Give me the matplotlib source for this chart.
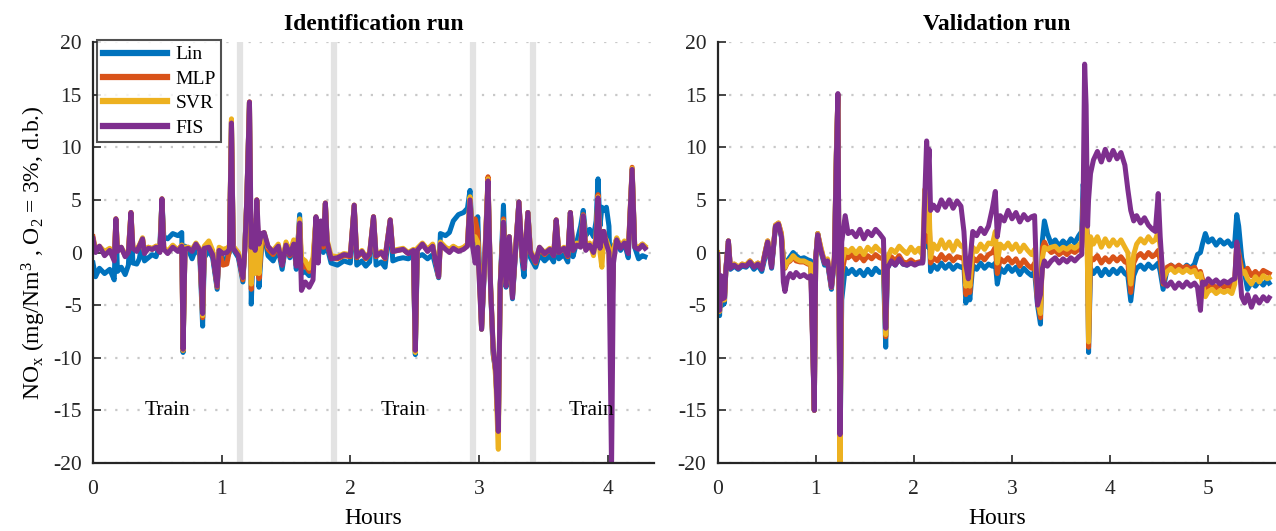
import numpy as np
import matplotlib.pyplot as plt

plt.rcParams['font.family'] = ['Liberation Serif', 'DejaVu Serif']
plt.rcParams['mathtext.default'] = 'regular'
plt.rcParams['axes.unicode_minus'] = False

# identification run (hours, error for each model)
t_id = [0.00, 0.02, 0.05, 0.09, 0.13, 0.165, 0.178, 0.19, 0.22, 0.25, 0.275, 0.295, 0.31, 0.34, 0.36,
        0.385, 0.40, 0.43, 0.46, 0.49, 0.52, 0.536, 0.55, 0.58, 0.62, 0.66, 0.69, 0.70, 0.715, 0.74,
        0.77, 0.80, 0.83, 0.852, 0.865, 0.90, 0.93, 0.965, 0.98, 1.01, 1.04, 1.06, 1.076, 1.09, 1.13,
        1.165, 1.18, 1.195, 1.216, 1.23, 1.245, 1.26, 1.273, 1.29, 1.31, 1.33, 1.36, 1.40, 1.44, 1.47,
        1.50, 1.53, 1.56, 1.58, 1.606, 1.62, 1.65, 1.68, 1.71, 1.733, 1.75, 1.77, 1.79, 1.806, 1.82,
        1.85, 1.90, 1.95, 2.00, 2.03, 2.05, 2.09, 2.12, 2.15, 2.18, 2.20, 2.24, 2.27, 2.31, 2.33,
        2.37, 2.41, 2.45, 2.49, 2.505, 2.52, 2.56, 2.60, 2.64, 2.686, 2.70, 2.74, 2.77, 2.80, 2.84,
        2.88, 2.91, 2.93, 2.95, 2.97, 2.99, 3.02, 3.05, 3.07, 3.09, 3.11, 3.13, 3.15, 3.165, 3.19,
        3.21, 3.235, 3.26, 3.285, 3.31, 3.335, 3.35, 3.38, 3.40, 3.44, 3.47, 3.51, 3.55, 3.58, 3.60,
        3.62, 3.66, 3.69, 3.71, 3.73, 3.76, 3.79, 3.81, 3.83, 3.86, 3.89, 3.91, 3.925, 3.94, 3.955,
        3.97, 3.99, 4.01, 4.03, 4.045, 4.07, 4.10, 4.13, 4.16, 4.19, 4.21, 4.24, 4.27, 4.29]
lin_id = [-1.0, -2.3, -1.5, -2.0, -1.6, -2.6, 3.0, -1.8, -1.4, -2.1, -1.2, 3.6, -1.0, -1.1, -0.6,
          1.2, -0.8, -0.5, -0.2, -0.4, 0.8, 5.0, 1.5, 1.3, 1.8, 1.6, 1.9, -9.5, 0.6, 0.3,
          -0.6, 0.4, -0.3, -7.0, -0.5, 0.2, -0.5, -3.5, 0.0, -0.7, -0.5, 0.0, 12.4, 0.3, -0.5,
          -2.8, 0.5, 4.8, 14.2, -4.9, 0.5, -1.5, 4.8, -3.3, 0.5, 1.7, -0.3, -0.8, 0.3, -1.6,
          0.8, -0.5, 0.9, -1.6, 3.6, -2.0, -1.8, -2.2, -1.5, 3.3, 0.5, 2.0, 0.0, 4.6, 0.5,
          -1.0, -1.2, -0.8, -1.0, 4.4, -1.2, -0.8, -1.3, -0.9, 3.3, -1.2, -0.9, -1.4, 3.0, -0.8,
          -0.6, -0.5, -0.6, -0.3, -9.7, -0.4, -0.2, -0.6, -0.2, -2.4, 1.8, 1.6, 1.9, 3.0, 3.6,
          3.8, 4.2, 5.9, 0.8, -0.5, 3.4, -7.3, 0.5, 6.8, -3.3, -9.7, -11.3, -17.0, -3.0, 4.5,
          -3.3, 1.5, -4.4, 0.2, 4.8, -0.8, -2.3, 3.8, -0.5, -1.4, -0.2, -0.8, -0.3, -0.9, 3.0,
          -0.6, -0.2, -0.9, 3.8, -0.4, 1.0, 2.5, 4.0, 1.6, 2.2, 1.5, 3.0, 7.0, 2.5, 4.3,
          4.0, 4.3, 2.5, -8.0, 0.5, 1.2, 0.2, 0.9, -0.5, 7.9, 0.5, -0.6, -0.3, -0.4]
mlp_id = [1.5, 0.2, 0.5, 0.0, 0.3, -0.6, 3.2, 0.2, 0.4, -0.3, 0.1, 3.8, 0.4, 0.2, 0.6,
          1.3, 0.0, 0.5, 0.3, 0.6, 0.1, 5.1, 0.4, 0.0, 0.6, 0.2, 0.7, -9.3, 0.4, 0.5,
          0.2, 0.8, 0.3, -6.2, 0.5, 0.6, 0.0, -3.3, 0.3, -1.2, -1.1, 0.2, 12.5, 0.5, -0.2,
          -2.6, 0.4, 5.0, 14.3, -3.5, 1.0, -0.8, 5.0, -2.5, 1.0, 1.8, 0.3, -0.2, 0.6, -1.2,
          0.8, -0.3, 0.9, -1.2, 3.0, -1.5, -1.2, -1.8, -1.0, 3.2, 0.5, 2.0, 0.5, 4.7, 0.8,
          -0.5, -0.6, -0.3, -0.4, 4.5, -0.5, 0.0, -0.6, -0.2, 3.4, -0.4, 0.0, -0.6, 3.1, 0.1,
          0.2, 0.3, -0.1, 0.2, -9.4, 0.3, 0.8, 0.2, 0.7, -2.3, 0.9, 0.4, 0.2, 0.5, 0.3,
          0.4, 0.7, 5.2, 1.0, 3.2, 2.0, -7.2, 1.0, 7.2, -3.2, -9.5, -11.3, -17.0, -3.0, 3.2,
          -3.0, 1.5, -4.2, 0.5, 4.8, -0.4, -1.5, 3.8, 0.0, -1.0, 0.4, -0.2, 0.3, -0.3, 3.1,
          0.0, 0.4, -0.4, 3.8, 0.2, 0.8, 0.6, 3.6, 0.3, 0.8, 0.2, 1.5, 5.5, 0.5, 2.0,
          2.0, 1.0, 0.5, -8.0, 0.3, 1.3, 0.5, 1.0, 0.0, 8.1, 0.6, 0.4, 0.8, 0.5]
svr_id = [1.2, 0.3, 0.6, 0.1, 0.4, -0.5, 3.2, 0.3, 0.5, -0.2, 0.2, 3.8, 0.5, 0.3, 0.7,
          1.4, 0.1, 0.5, 0.4, 0.6, 0.2, 5.1, 0.5, 0.1, 0.7, 0.2, 0.7, -9.3, 0.5, 0.5,
          0.3, 0.9, 0.3, -6.0, 0.6, 1.1, 0.2, -3.2, 0.5, 0.3, 0.4, 0.6, 12.7, 0.6, 0.0,
          -2.4, 0.5, 5.0, 14.3, -3.0, 3.0, -2.0, 5.0, -2.0, 1.5, 1.9, 0.5, 0.2, 0.8, -1.0,
          1.0, 0.0, 1.2, -1.0, 3.2, -0.5, -0.8, -1.5, -0.5, 3.4, 1.0, 2.5, 1.5, 4.7, 1.2,
          -0.3, -0.4, -0.1, -0.2, 4.5, -0.3, 0.2, -0.4, 0.0, 3.4, -0.2, 0.1, -0.4, 3.1, 0.2,
          0.3, 0.4, 0.0, 0.3, -9.5, 0.4, 0.9, 0.3, 0.8, -2.3, 1.0, 0.5, 0.3, 0.6, 0.3,
          0.5, 0.8, 5.3, 1.2, 1.5, 1.0, -7.3, 1.2, 7.0, -3.2, -9.0, -12.0, -18.7, -3.0, 3.0,
          -2.8, 1.5, -4.1, 0.6, 4.8, -0.3, -1.2, 3.8, 0.2, -0.8, 0.5, 0.0, 0.4, -0.2, 3.1,
          0.1, 0.5, -0.2, 3.8, 0.3, 0.9, 0.7, 3.5, 0.4, 0.9, -0.3, 1.6, 5.3, 0.0, -1.4,
          1.5, 1.2, 0.4, -8.0, 0.2, 1.4, 0.6, 1.1, 0.1, 8.0, 0.6, 0.5, 0.8, 0.6]
fis_id = [1.3, 0.0, 0.6, -0.3, 0.2, -0.8, 3.2, 0.1, 0.5, -0.4, 0.0, 3.8, 0.4, 0.1, 0.6,
          1.3, -0.1, 0.4, 0.3, 0.5, 0.0, 5.1, 0.3, -0.1, 0.5, 0.1, 0.6, -9.2, 0.3, 0.4,
          0.1, 0.8, 0.2, -5.8, 0.4, 0.5, -0.2, -3.2, 0.2, -0.1, 0.0, 0.3, 12.3, 0.4, -0.3,
          -2.4, 0.3, 5.0, 14.3, 0.5, 2.0, 0.2, 5.0, 0.8, 1.8, 1.9, 0.6, 0.0, 0.6, -1.2,
          0.7, -0.2, 0.8, -1.3, 2.8, -3.6, -2.8, -3.3, -2.6, 3.4, -1.0, 3.0, 0.8, 4.7, 1.0,
          -0.6, -0.5, -0.2, -0.3, 4.5, -0.4, 0.1, -0.5, -0.1, 3.4, -0.3, 0.0, -0.5, 3.1, 0.1,
          0.2, 0.3, -0.1, 0.2, -9.3, 0.2, 0.8, 0.1, 0.6, -2.3, 0.8, 0.3, 0.0, 0.4, 0.1,
          0.3, 0.6, 5.0, 0.6, -1.0, 0.5, -7.3, 0.8, 6.8, -3.3, -9.0, -11.3, -17.0, -3.0, 2.9,
          -3.2, 1.5, -4.3, 0.4, 4.8, -0.3, -1.5, 3.8, 0.0, -0.9, 0.5, -0.1, 0.3, -0.3, 3.1,
          0.0, 0.4, -0.3, 3.8, 0.2, 0.7, 0.5, 3.5, 0.2, 0.7, 0.0, 1.2, 5.2, 0.4, 1.5,
          2.0, 0.8, 0.0, -20.5, -1.0, 1.2, 0.4, 0.9, -0.1, 7.9, 0.5, 0.3, 0.7, 0.4]

# validation run
t_va = [0.00, 0.02, 0.035, 0.05, 0.07, 0.085, 0.11, 0.13, 0.17, 0.21, 0.25, 0.29, 0.33, 0.37, 0.41,
        0.45, 0.49, 0.51, 0.55, 0.59, 0.62, 0.65, 0.67, 0.686, 0.71, 0.74, 0.77, 0.80, 0.84, 0.88,
        0.92, 0.95, 0.985, 1.00, 1.02, 1.05, 1.09, 1.12, 1.16, 1.19, 1.21, 1.226, 1.247, 1.265, 1.30,
        1.33, 1.37, 1.41, 1.45, 1.49, 1.53, 1.57, 1.61, 1.65, 1.69, 1.713, 1.73, 1.77, 1.81, 1.85,
        1.89, 1.93, 1.97, 2.01, 2.05, 2.09, 2.11, 2.13, 2.145, 2.155, 2.17, 2.20, 2.24, 2.28, 2.32,
        2.36, 2.40, 2.44, 2.48, 2.51, 2.53, 2.555, 2.57, 2.60, 2.64, 2.68, 2.72, 2.76, 2.80, 2.83,
        2.85, 2.88, 2.92, 2.96, 3.00, 3.04, 3.08, 3.12, 3.16, 3.20, 3.23, 3.26, 3.29, 3.31, 3.33,
        3.36, 3.40, 3.44, 3.48, 3.52, 3.56, 3.60, 3.64, 3.68, 3.71, 3.725, 3.74, 3.755, 3.77, 3.78,
        3.80, 3.83, 3.87, 3.91, 3.95, 3.99, 4.03, 4.07, 4.11, 4.15, 4.18, 4.21, 4.24, 4.27, 4.31,
        4.35, 4.39, 4.43, 4.46, 4.49, 4.51, 4.54, 4.58, 4.62, 4.66, 4.70, 4.74, 4.78, 4.82, 4.86,
        4.89, 4.92, 4.94, 4.97, 5.00, 5.04, 5.08, 5.12, 5.16, 5.20, 5.24, 5.27, 5.29, 5.31, 5.34,
        5.37, 5.40, 5.44, 5.48, 5.52, 5.56, 5.60, 5.62]
lin_va = [-0.5, -6.0, -2.5, -5.0, -4.8, -1.5, 1.1, -1.6, -1.3, -1.6, -1.3, -1.4, -1.0, -1.6, -1.2,
          -1.8, -0.2, 1.0, -1.5, 2.5, 2.7, 1.5, -0.5, -1.0, -0.8, -0.4, 0.0, -0.3, -0.6, -0.5,
          -0.7, -0.8, -15.0, -0.5, 1.8, 0.2, -1.2, -1.0, -3.5, -0.8, 9.3, 14.8, -19.5, -4.5, -1.5,
          -2.0, -1.6, -2.1, -1.7, -2.2, -1.6, -2.1, -1.5, -1.9, -1.8, -9.0, -1.5, -0.8, -1.2, -0.6,
          -1.1, -1.2, -0.9, -1.1, -1.0, -0.9, 2.5, 4.0, 0.5, 3.0, -1.8, -1.2, -1.6, -1.0, -1.5,
          -1.1, -1.6, -1.2, -1.4, -1.3, -4.8, -3.0, -4.5, -1.2, -1.6, -1.0, -1.5, -1.1, -1.3, -1.0,
          -3.0, -1.5, -1.9, -1.3, -1.8, -1.4, -2.1, -1.5, -1.9, -2.2, -1.8, -5.0, -6.8, 1.2, 3.0,
          1.8, 0.8, 1.2, 0.6, 1.1, 0.7, 1.3, 0.9, 1.6, 2.0, 6.5, 5.0, 3.0, 1.0, -9.5,
          -1.5, -2.0, -1.5, -2.2, -1.6, -2.1, -1.6, -2.0, -1.5, -2.0, -2.2, -4.6, -2.2, -1.5, -1.2,
          -1.6, -1.1, -1.5, -1.3, -1.0, -1.8, -3.5, -1.6, -1.2, -1.5, -1.3, -1.6, -1.2, -1.5, -1.1,
          -0.2, 0.0, 0.8, 1.8, 1.0, 1.3, 0.7, 1.2, 0.8, 1.1, 0.6, 1.0, 3.6, 2.5, -0.5,
          -2.0, -3.5, -2.8, -3.2, -2.7, -3.1, -2.6, -2.9]
mlp_va = [-0.2, -5.6, -2.3, -4.5, -4.5, -1.5, 1.1, -1.4, -1.1, -1.4, -1.1, -1.2, -0.8, -1.3, -1.0,
          -1.5, 0.3, 1.1, -1.2, 2.6, 2.8, 1.8, -0.7, -1.5, -1.0, -0.8, -0.4, -0.8, -0.9, -0.9,
          -1.1, -1.2, -15.0, -0.5, 1.8, 0.5, -1.0, -0.7, -3.3, -0.5, 9.5, 15.0, -18.5, -2.0, -0.3,
          -0.5, -0.2, -0.7, -0.3, -0.8, -0.3, -0.6, -0.2, -0.5, -0.6, -8.0, -1.0, -0.4, -0.8, -0.3,
          -0.9, -1.0, -0.7, -1.0, -0.9, -0.8, 3.0, 4.5, 1.0, 3.5, -1.0, -0.5, -0.8, -0.2, -0.7,
          -0.3, -0.8, -0.4, -0.5, -0.6, -4.0, -2.5, -3.8, -0.5, -0.8, -0.3, -0.7, -0.2, 0.0, 0.5,
          -2.0, -0.6, -0.9, -0.5, -1.0, -0.6, -1.3, -0.7, -1.2, -1.5, -1.0, -4.5, -6.2, 0.5, 1.0,
          0.4, 0.0, 0.2, -0.2, 0.1, -0.2, 0.2, 0.0, 0.3, 0.5, 5.0, 6.0, 4.0, 0.5, -9.0,
          -0.5, -0.7, -0.3, -1.0, -0.5, -0.9, -0.4, -0.8, -0.4, -0.9, -1.0, -3.8, -1.0, -0.4, -0.1,
          -0.5, 0.0, -0.4, -0.2, 0.2, -0.8, -3.0, -1.4, -1.2, -1.5, -1.2, -1.5, -1.3, -1.6, -1.4,
          -2.0, -1.8, -2.5, -3.5, -3.2, -3.0, -3.4, -3.0, -3.3, -3.1, -3.4, -2.5, 0.8, 0.0, -1.5,
          -2.0, -1.5, -2.2, -1.8, -2.2, -1.7, -1.9, -2.0]
svr_va = [0.0, -5.6, -2.3, -4.5, -4.5, -1.5, 1.1, -1.4, -1.1, -1.4, -1.1, -1.2, -0.8, -1.3, -1.0,
          -1.5, 0.3, 1.1, -1.2, 2.6, 2.8, 1.8, -0.7, -1.4, -0.9, -0.7, -0.3, -0.6, -0.8, -0.8,
          -1.0, -1.1, -15.0, -0.5, 1.8, 0.6, -0.9, -0.6, -3.3, -0.4, 9.4, 15.0, -20.5, -1.0, 0.3,
          0.0, 0.4, -0.1, 0.4, -0.2, 0.5, 0.1, 0.6, 0.2, 0.0, -7.8, -0.5, 0.3, 0.0, 0.6,
          0.2, -0.1, 0.5, 0.0, 0.4, -0.3, 6.0, 5.0, 2.0, 4.5, -0.5, 0.8, 0.3, 1.2, 0.4,
          1.0, 0.2, 1.1, 0.6, 0.5, -3.2, -2.0, -3.2, 0.5, 0.1, 0.8, 0.3, 0.9, 0.8, 2.0,
          -1.0, 0.8, 0.4, 0.9, 0.3, 0.8, 0.1, 0.7, 0.2, -0.2, 0.3, -4.5, -5.8, -0.5, 0.5,
          0.3, 0.5, 0.6, 0.2, 0.5, 0.3, 0.6, 0.4, 0.7, 1.0, 4.5, 7.0, 5.0, -2.0, -8.5,
          1.5, 0.8, 1.5, 0.5, 1.3, 0.6, 1.2, 0.7, 1.2, 0.5, 0.0, -3.0, -0.2, 0.8, 1.3,
          0.9, 1.5, 1.0, 1.2, 2.0, 0.5, -2.5, -1.8, -1.5, -1.9, -1.6, -1.9, -1.6, -1.9, -1.7,
          -2.3, -2.0, -3.0, -4.2, -3.7, -3.5, -3.9, -3.6, -3.8, -3.6, -3.9, -3.0, 0.5, -0.5, -2.0,
          -1.8, -2.5, -3.0, -2.3, -2.8, -2.2, -2.5, -2.4]
fis_va = [-0.2, -5.5, -2.2, -4.4, -4.3, -1.6, 1.1, -1.5, -1.2, -1.5, -1.2, -1.3, -0.9, -1.4, -1.1,
          -1.6, 0.2, 1.0, -1.4, 2.5, 2.7, 1.5, -2.8, -3.7, -2.5, -2.0, -2.4, -1.9, -2.3, -2.1,
          -2.4, -2.2, -15.0, -0.5, 1.7, 0.3, -1.0, -0.8, -3.3, -0.6, 9.0, 15.1, -17.3, 1.0, 3.5,
          1.8, 2.0, 1.5, 2.2, 1.3, 2.0, 1.6, 2.2, 1.8, 1.3, -7.2, -1.5, -0.8, -1.2, -0.6,
          -1.1, -1.2, -1.0, -1.2, -1.0, -1.0, 5.0, 10.6, 8.0, 9.8, 4.0, 4.5, 4.0, 5.0, 4.3,
          5.0, 4.2, 4.9, 4.4, 2.0, -1.2, -2.5, -1.0, 2.0, 1.6, 2.3, 1.8, 2.5, 4.2, 5.8,
          1.5, 3.5, 3.0, 4.0, 3.2, 3.8, 2.9, 3.6, 3.1, 3.4, 3.5, -5.0, -4.0, -1.5, -0.8,
          -1.3, -0.8, -0.5, -1.0, -0.6, -0.9, -0.5, -0.8, -0.4, -0.2, 5.0, 17.9, 14.0, 2.5, 5.0,
          7.5, 8.8, 9.6, 8.6, 9.8, 8.8, 9.7, 8.9, 9.5, 8.3, 6.0, 4.0, 3.0, 3.5, 2.8,
          3.3, 2.6, 2.2, 2.0, 5.6, 1.5, -2.8, -3.2, -2.8, -3.4, -2.9, -3.3, -2.8, -3.2, -2.9,
          -3.3, -5.5, -2.8, -3.0, -2.5, -2.9, -2.6, -3.0, -2.7, -2.9, -2.6, -2.5, 1.0, -0.5, -4.2,
          -4.8, -4.0, -5.2, -4.2, -4.8, -4.2, -4.6, -4.3]

labels = ['Lin', 'MLP', 'SVR', 'FIS']
colors = ['#0072BD', '#D95319', '#EDB120', '#7E2F8E']
split_lines = [1.14, 1.87, 2.95, 3.42]
train_x = [0.575, 2.41, 3.87]

fig = plt.figure(figsize=(12.76, 5.31), dpi=100)
ax1 = fig.add_axes([93 / 1276, 68 / 531, 561 / 1276, 421 / 531])
ax2 = fig.add_axes([717.6 / 1276, 68 / 531, 558.4 / 1276, 421 / 531])


def style_axes(ax, xmax, nticks, title):
    ax.set_xlim(0, xmax)
    ax.set_ylim(-20, 20)
    ax.set_xticks(range(nticks))
    ax.set_yticks(range(-20, 21, 5))
    for s in ['top', 'right']:
        ax.spines[s].set_visible(False)
    for s in ['left', 'bottom']:
        ax.spines[s].set_linewidth(1.6)
        ax.spines[s].set_color('#262626')
    ax.tick_params(direction='in', length=6, width=1.2, colors='#262626', labelsize=15.5)
    ax.tick_params(axis='x', pad=12)
    ax.tick_params(axis='y', pad=8)
    ax.yaxis.grid(True, linestyle=(0, (1, 4)), color='#c8c8c8', linewidth=1.6)
    ax.set_axisbelow(True)
    ax.set_xlabel('Hours', fontsize=17, labelpad=7)
    ax.set_title(title, fontsize=17, fontweight='bold', pad=9)


# left: identification run
for x in split_lines:
    ax1.axvline(x, color='#e3e3e3', linewidth=4.5, zorder=1)
for y, lab, c in zip([lin_id, mlp_id, svr_id, fis_id], labels, colors):
    ax1.plot(t_id, y, color=c, linewidth=3.6, label=lab, zorder=2)
for x in train_x:
    ax1.text(x, -15, 'Train', fontsize=15.5, ha='center', va='center', zorder=3)
style_axes(ax1, 4.36, 5, 'Identification run')
ax1.set_ylabel('NO$_x$ (mg/Nm$^3$ , O$_2$ = 3%, d.b.)', fontsize=17, labelpad=4)
leg = ax1.legend(loc='upper left', bbox_to_anchor=(0.008, 1.005), fontsize=14, frameon=True,
                 fancybox=False, handlelength=3.3, handletextpad=0.4, borderpad=0.3,
                 labelspacing=0.35, borderaxespad=0)
leg.get_frame().set_edgecolor('#262626')
leg.get_frame().set_linewidth(1.5)
for h in leg.get_lines():
    h.set_linewidth(4.5)

# right: validation run
for y, lab, c in zip([lin_va, mlp_va, svr_va, fis_va], labels, colors):
    ax2.plot(t_va, y, color=c, linewidth=3.6, label=lab, zorder=2)
style_axes(ax2, 5.69, 6, 'Validation run')

fig.savefig('out.png', dpi=100)
